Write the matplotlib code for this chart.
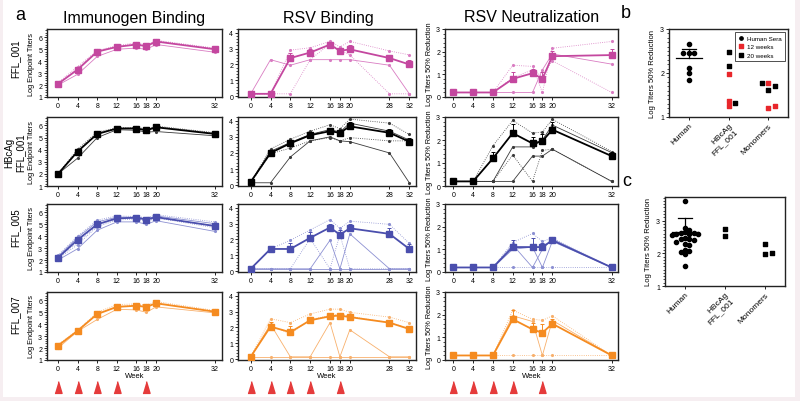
import numpy as np
import matplotlib
matplotlib.use('Agg')
import matplotlib.pyplot as plt
from matplotlib.patches import Rectangle
from matplotlib.ticker import AutoMinorLocator
from matplotlib.transforms import blended_transform_factory

plt.rcParams['font.family'] = ['Liberation Sans', 'DejaVu Sans']

# ---- data ----
wk_imm = [0, 4, 8, 12, 16, 18, 20, 32]
wk_bind = [0, 4, 8, 12, 16, 18, 20, 28, 32]
wk_neut = [0, 4, 8, 12, 16, 18, 20, 32]
boost_weeks = [0, 4, 8, 12, 18]

row_names = ['FFL_001', 'HBcAg\nFFL_001', 'FFL_005', 'FFL_007']

# immunogen binding
imm_001_mean = [2.1, 3.3, 4.8, 5.2, 5.4, 5.25, 5.65, 5.0]
imm_001_err = [0.1, 0.25, 0.1, 0.1, 0.15, 0.1, 0.1, 0.1]
imm_001_ind = [[2.2, 3.55, 4.9, 5.3, 5.55, 5.35, 5.75, 5.1],
               [2.0, 2.9, 4.4, 5.0, 5.1, 5.0, 5.4, 4.75],
               [2.1, 3.4, 4.85, 5.25, 5.45, 5.3, 5.7, 5.05]]
imm_hbc_mean = [2.0, 3.85, 5.3, 5.75, 5.75, 5.6, 5.85, 5.3]
imm_hbc_err = [0.05, 0.15, 0.1, 0.05, 0.05, 0.1, 0.05, 0.1]
imm_hbc_ind = [[2.0, 4.05, 5.45, 5.8, 5.85, 5.7, 5.95, 5.4],
               [2.0, 3.3, 5.0, 5.65, 5.6, 5.45, 5.5, 5.15],
               [2.0, 3.9, 5.35, 5.75, 5.8, 5.65, 5.9, 5.35]]
imm_005_mean = [2.2, 3.7, 5.0, 5.5, 5.55, 5.4, 5.6, 4.85]
imm_005_err = [0.15, 0.2, 0.2, 0.15, 0.1, 0.15, 0.15, 0.15]
imm_005_ind = [[2.4, 4.0, 5.35, 5.7, 5.65, 5.55, 5.8, 5.2],
               [2.0, 2.95, 4.5, 5.2, 5.2, 5.0, 5.3, 4.4],
               [2.2, 3.5, 4.9, 5.45, 5.5, 5.3, 5.55, 4.7],
               [2.3, 3.9, 5.2, 5.6, 5.6, 5.45, 5.7, 5.05],
               [2.1, 3.3, 4.8, 5.35, 5.45, 5.25, 5.5, 4.9]]
imm_007_mean = [2.2, 3.45, 4.85, 5.45, 5.55, 5.45, 5.75, 5.05]
imm_007_err = [0.15, 0.05, 0.2, 0.15, 0.15, 0.15, 0.15, 0.05]
imm_007_ind = [[2.3, 3.5, 5.0, 5.65, 5.7, 5.6, 5.9, 5.15],
               [2.0, 3.4, 4.4, 5.25, 5.2, 5.0, 5.45, 4.95],
               [2.2, 3.45, 4.9, 5.5, 5.6, 5.5, 5.8, 5.05]]

# RSV binding
bind_001_mean = [0.15, 0.15, 2.4, 2.75, 3.25, 2.85, 2.95, 2.4, 2.0]
bind_001_err = [0, 0, 0.35, 0.2, 0.15, 0.15, 0.3, 0.2, 0.3]
bind_001_ind = [[0.15, 0.15, 2.9, 3.05, 3.45, 3.1, 3.45, 2.85, 2.6],
                [0.15, 2.3, 1.95, 2.3, 2.3, 2.3, 2.3, 1.95, 0.15],
                [0.15, 0.15, 0.15, 2.3, 3.3, 2.9, 2.6, 0.15, 0.15]]
bind_hbc_mean = [0.2, 2.0, 2.6, 3.1, 3.35, 3.25, 3.65, 3.25, 2.7]
bind_hbc_err = [0, 0.1, 0.1, 0.15, 0.2, 0.1, 0.25, 0.25, 0.2]
bind_hbc_ind = [[0.2, 2.25, 2.85, 3.35, 3.75, 3.5, 4.1, 3.85, 3.15],
                [0.2, 2.1, 2.65, 3.15, 3.45, 3.3, 3.85, 3.35, 2.8],
                [0.15, 1.95, 2.3, 2.75, 2.95, 2.75, 2.95, 2.75, 2.75],
                [0.15, 0.15, 1.75, 2.75, 3.0, 2.75, 2.7, 2.0, 0.15]]
bind_005_mean = [0.15, 1.4, 1.4, 2.1, 2.75, 2.3, 2.7, 2.35, 1.4]
bind_005_err = [0, 0, 0.4, 0.35, 0.2, 0.3, 0.3, 0.4, 0.3]
bind_005_ind = [[0.15, 1.4, 1.95, 2.6, 3.25, 2.7, 3.15, 2.95, 1.75],
                [0.15, 0.15, 0.15, 0.15, 1.95, 0.15, 2.35, 0.15, 0.15],
                [0.15, 0.15, 0.15, 2.05, 0.15, 2.3, 0.15, 0.15, 0.15],
                [0.15, 0.15, 0.15, 0.15, 0.15, 0.15, 0.15, 0.15, 0.15]]
bind_007_mean = [0.15, 2.05, 1.7, 2.45, 2.7, 2.75, 2.65, 2.3, 1.9]
bind_007_err = [0, 0.3, 0.4, 0.2, 0.2, 0.15, 0.15, 0.1, 0.2]
bind_007_ind = [[0.15, 2.55, 2.3, 2.85, 3.15, 3.15, 2.95, 2.65, 2.3],
                [0.15, 2.2, 0.15, 0.15, 2.3, 0.15, 1.85, 0.15, 0.15],
                [0.15, 2.1, 1.6, 2.5, 2.75, 2.85, 2.7, 2.3, 1.95],
                [0.15, 0.15, 0.15, 0.15, 0.15, 0.15, 0.15, 0.15, 0.15]]

# RSV neutralization
neut_001_mean = [0.2, 0.2, 0.2, 0.8, 1.05, 0.8, 1.8, 1.85]
neut_001_err = [0, 0, 0, 0.3, 0.2, 0.3, 0.25, 0.25]
neut_001_ind = [[0.2, 0.2, 0.2, 1.4, 1.35, 0.2, 2.15, 2.45],
                [0.2, 0.2, 0.2, 0.2, 0.2, 1.2, 1.9, 1.45],
                [0.2, 0.2, 0.2, 0.85, 1.2, 0.9, 1.6, 0.2]]
neut_hbc_mean = [0.2, 0.2, 1.2, 2.3, 1.85, 1.95, 2.45, 1.3]
neut_hbc_err = [0, 0, 0.3, 0.4, 0.3, 0.3, 0.35, 0.2]
neut_hbc_ind = [[0.2, 0.2, 1.75, 2.85, 2.3, 2.35, 2.9, 1.5],
                [0.2, 0.2, 0.2, 1.7, 1.7, 2.0, 2.65, 1.45],
                [0.2, 0.2, 0.2, 1.35, 0.2, 1.55, 1.6, 0.2],
                [0.2, 0.2, 0.2, 0.2, 1.3, 1.3, 1.6, 0.2]]
neut_005_mean = [0.2, 0.2, 0.2, 1.1, 1.1, 1.1, 1.4, 0.2]
neut_005_err = [0, 0, 0, 0.3, 0.4, 0.2, 0.1, 0]
neut_005_ind = [[0.2, 0.2, 0.2, 1.3, 1.7, 1.35, 1.5, 0.2],
                [0.2, 0.2, 0.2, 1.2, 0.2, 1.0, 1.45, 0.2],
                [0.2, 0.2, 0.2, 0.2, 0.2, 0.2, 0.2, 0.2],
                [0.2, 0.2, 0.2, 1.0, 1.1, 0.2, 1.35, 0.2]]
neut_007_mean = [0.2, 0.2, 0.2, 1.8, 1.35, 1.2, 1.6, 0.2]
neut_007_err = [0, 0, 0, 0.4, 0.3, 0.4, 0.2, 0]
neut_007_ind = [[0.2, 0.2, 0.2, 2.2, 1.8, 1.75, 1.95, 0.2],
                [0.2, 0.2, 0.2, 1.95, 1.7, 0.2, 1.75, 0.2],
                [0.2, 0.2, 0.2, 0.2, 0.2, 0.2, 0.2, 0.2]]

# panel b / c
groups = ['Human', 'HBcAg\nFFL_001', 'Monomers']
b_human = [2.65, 2.45, 2.45, 2.45, 2.12, 2.0, 1.85]
b_human_mean, b_human_sd = 2.33, 0.22
b_hbc_12wk = [1.97, 1.37, 1.24]
b_hbc_20wk = [2.47, 2.17, 1.32]
b_mono_12wk = [1.77, 1.2, 1.26]
b_mono_20wk = [1.7, 1.77, 1.61]
c_human = [3.59, 2.78, 2.71, 2.66, 2.63, 2.62, 2.60, 2.60, 2.58, 2.56, 2.47,
           2.45, 2.44, 2.42, 2.36, 2.28, 2.25, 2.10, 2.07, 2.05, 1.97, 1.61]
c_human_mean, c_human_sd = 2.64, 0.45
c_hbc = [2.74, 2.52]
c_mono = [2.27, 1.97, 2.02]

colors = [('#c4479f', '#d97cc2'), ('#000000', '#3a3a3a'),
          ('#4a4ead', '#8c90d2'), ('#f58b20', '#f8b06c')]

W, H = 800, 402
fig = plt.figure(figsize=(8, 4.02), dpi=100)
fig.patch.set_facecolor('#f6eef1')
fig.patches.append(Rectangle((3 / W, 4 / H), 792 / W, 1 - 4 / H, transform=fig.transFigure,
                             facecolor='white', edgecolor='none', zorder=-10))


def box(l, t, r, b):
    return [l / W, 1 - b / H, (r - l) / W, (b - t) / H]


def style(ax):
    for sp in ax.spines.values():
        sp.set_linewidth(1.0)
        sp.set_color('#222222')
    ax.tick_params(labelsize=5, length=2, width=0.6, pad=1.5)
    ax.tick_params(which='minor', length=1.2, width=0.5)


def course(ax, weeks, mean, err, ind, cm, ci, ylim, yticks, xlim):
    for i, s in enumerate(ind):
        ax.plot(weeks, s, ls=':' if i % 2 == 0 else '-', lw=0.6, color=ci,
                marker='.', ms=2.5, zorder=2)
    ax.errorbar(weeks, mean, yerr=[np.zeros(len(err)), err], color=cm, lw=1.3,
                marker='s', ms=3.8, capsize=1.5, elinewidth=0.7, capthick=0.7, zorder=3)
    ax.set_xlim(xlim)
    ax.set_ylim(ylim)
    ax.set_xticks(weeks)
    ax.set_yticks(yticks)
    ax.yaxis.set_minor_locator(AutoMinorLocator(5))
    style(ax)


rows_px = [(30, 98), (118, 187), (205, 273), (293, 361)]
imm = [(imm_001_mean, imm_001_err, imm_001_ind), (imm_hbc_mean, imm_hbc_err, imm_hbc_ind),
       (imm_005_mean, imm_005_err, imm_005_ind), (imm_007_mean, imm_007_err, imm_007_ind)]
bind = [(bind_001_mean, bind_001_err, bind_001_ind), (bind_hbc_mean, bind_hbc_err, bind_hbc_ind),
        (bind_005_mean, bind_005_err, bind_005_ind), (bind_007_mean, bind_007_err, bind_007_ind)]
neut = [(neut_001_mean, neut_001_err, neut_001_ind), (neut_hbc_mean, neut_hbc_err, neut_hbc_ind),
        (neut_005_mean, neut_005_err, neut_005_ind), (neut_007_mean, neut_007_err, neut_007_ind)]
label_y = [59, 153, 228, 315]

tri = [(-0.6, -1), (0.6, -1), (0, 1)]
for r, (t, b) in enumerate(rows_px):
    cm, ci = colors[r]
    a1 = fig.add_axes(box(47, t, 222, b))
    course(a1, wk_imm, *imm[r], cm, ci, (1, 6.7), range(1, 7), (-2.24, 33.43))
    a1.set_ylabel('Log Endpoint Titers', fontsize=5.3, labelpad=2)
    a2 = fig.add_axes(box(238, t, 416, b))
    course(a2, wk_bind, *bind[r], cm, ci, (-0.05, 4.23), range(0, 5), (-2.56, 33.35))
    a3 = fig.add_axes(box(445, t, 618, b))
    course(a3, wk_neut, *neut[r], cm, ci, (0, 3), range(0, 4), (-1.68, 33.27))
    a3.set_ylabel('Log Titers 50% Reduction', fontsize=5.3, labelpad=2)
    fig.text(15 / W, 1 - label_y[r] / H, row_names[r], rotation=90, fontsize=7,
             ha='center', va='center', multialignment='center')
    if r == 3:
        for ax in (a1, a2, a3):
            ax.set_xlabel('Week', fontsize=5.5, labelpad=0)
            tr = blended_transform_factory(ax.transData, fig.transFigure)
            ax.plot(boost_weeks, [1 - 387.5 / H] * len(boost_weeks), ls='none', marker=tri,
                    ms=8.5, color='#e53b3b', transform=tr, clip_on=False)

fig.text(134 / W, 1 - 18 / H, 'Immunogen Binding', fontsize=11.5, ha='center', va='center')
fig.text(328 / W, 1 - 18 / H, 'RSV Binding', fontsize=11.5, ha='center', va='center')
fig.text(532 / W, 1 - 18 / H, 'RSV Neutralization', fontsize=11.5, ha='center', va='center')
fig.text(20 / W, 1 - 15 / H, 'a', fontsize=13, ha='center', va='center')
fig.text(626 / W, 1 - 13 / H, 'b', fontsize=13, ha='center', va='center')
fig.text(627 / W, 1 - 182 / H, 'c', fontsize=13, ha='center', va='center')


def swarm(ax, x0, vals, d=4.3, step=0.55):
    # simple beeswarm: push points sideways until they don't overlap
    tr = ax.transData
    ppu = tr.transform((1, 0))[0] - tr.transform((0, 0))[0]
    placed, xs = [], []
    for v in vals:
        py = tr.transform((x0, v))[1]
        k = 0
        while True:
            off = ((k + 1) // 2) * (1 if k % 2 else -1) * d * step
            if all((off - px) ** 2 + (py - qy) ** 2 >= d * d for px, qy in placed):
                break
            k += 1
        placed.append((off, py))
        xs.append(x0 + off / ppu)
    return xs


def group_axes(rect, ylim):
    ax = fig.add_axes(rect)
    ax.set_xlim(-0.5, 2.5)
    ax.set_ylim(ylim)
    ax.set_xticks(range(3))
    ax.set_xticklabels(groups, rotation=45, ha='right', rotation_mode='anchor', fontsize=6)
    ax.set_yticks([1, 2, 3])
    ax.yaxis.set_minor_locator(AutoMinorLocator(10))
    style(ax)
    ax.tick_params(axis='x', labelsize=6)
    ax.set_ylabel('Log Titers 50% Reduction', fontsize=5.5, labelpad=3)
    return ax


def mean_bar(ax, x0, m, sd):
    ax.plot([x0 - 0.33, x0 + 0.33], [m, m], color='black', lw=0.9)
    ax.plot([x0, x0], [m, m + sd], color='black', lw=0.9)
    ax.plot([x0 - 0.17, x0 + 0.17], [m + sd, m + sd], color='black', lw=0.9)


axb = group_axes(box(669, 30, 788, 118), (1, 3))
axb.scatter(swarm(axb, 0, b_human, d=5), b_human, s=9, color='black', zorder=3, label='Human Sera')
mean_bar(axb, 0, b_human_mean, b_human_sd)
for gx, v12, v20 in [(1, b_hbc_12wk, b_hbc_20wk), (2, b_mono_12wk, b_mono_20wk)]:
    xs = swarm(axb, gx, v12 + v20, d=5.5, step=0.6)
    axb.scatter(xs[:len(v12)], v12, marker='s', s=8, color='#e8262b', zorder=3,
                label='12 weeks' if gx == 1 else None)
    axb.scatter(xs[len(v12):], v20, marker='s', s=8, color='black', zorder=3,
                label='20 weeks' if gx == 1 else None)
axb.legend(loc='upper right', fontsize=4.5, frameon=True, fancybox=False, edgecolor='black',
           handlelength=1, handletextpad=0.5, borderpad=0.5, labelspacing=0.5,
           markerscale=0.8).get_frame().set_linewidth(0.6)

axc = group_axes(box(665, 198, 785, 287), (1, 3.72))
axc.scatter(swarm(axc, 0, c_human, d=3.7, step=0.6), c_human, s=9, color='black', zorder=3)
mean_bar(axc, 0, c_human_mean, c_human_sd)
axc.scatter(swarm(axc, 1, c_hbc, d=5.5, step=0.6), c_hbc, marker='s', s=8, color='black', zorder=3)
axc.scatter(swarm(axc, 2, c_mono, d=5.5, step=0.6), c_mono, marker='s', s=8, color='black', zorder=3)

fig.savefig('out.png', dpi=100, facecolor=fig.get_facecolor())
